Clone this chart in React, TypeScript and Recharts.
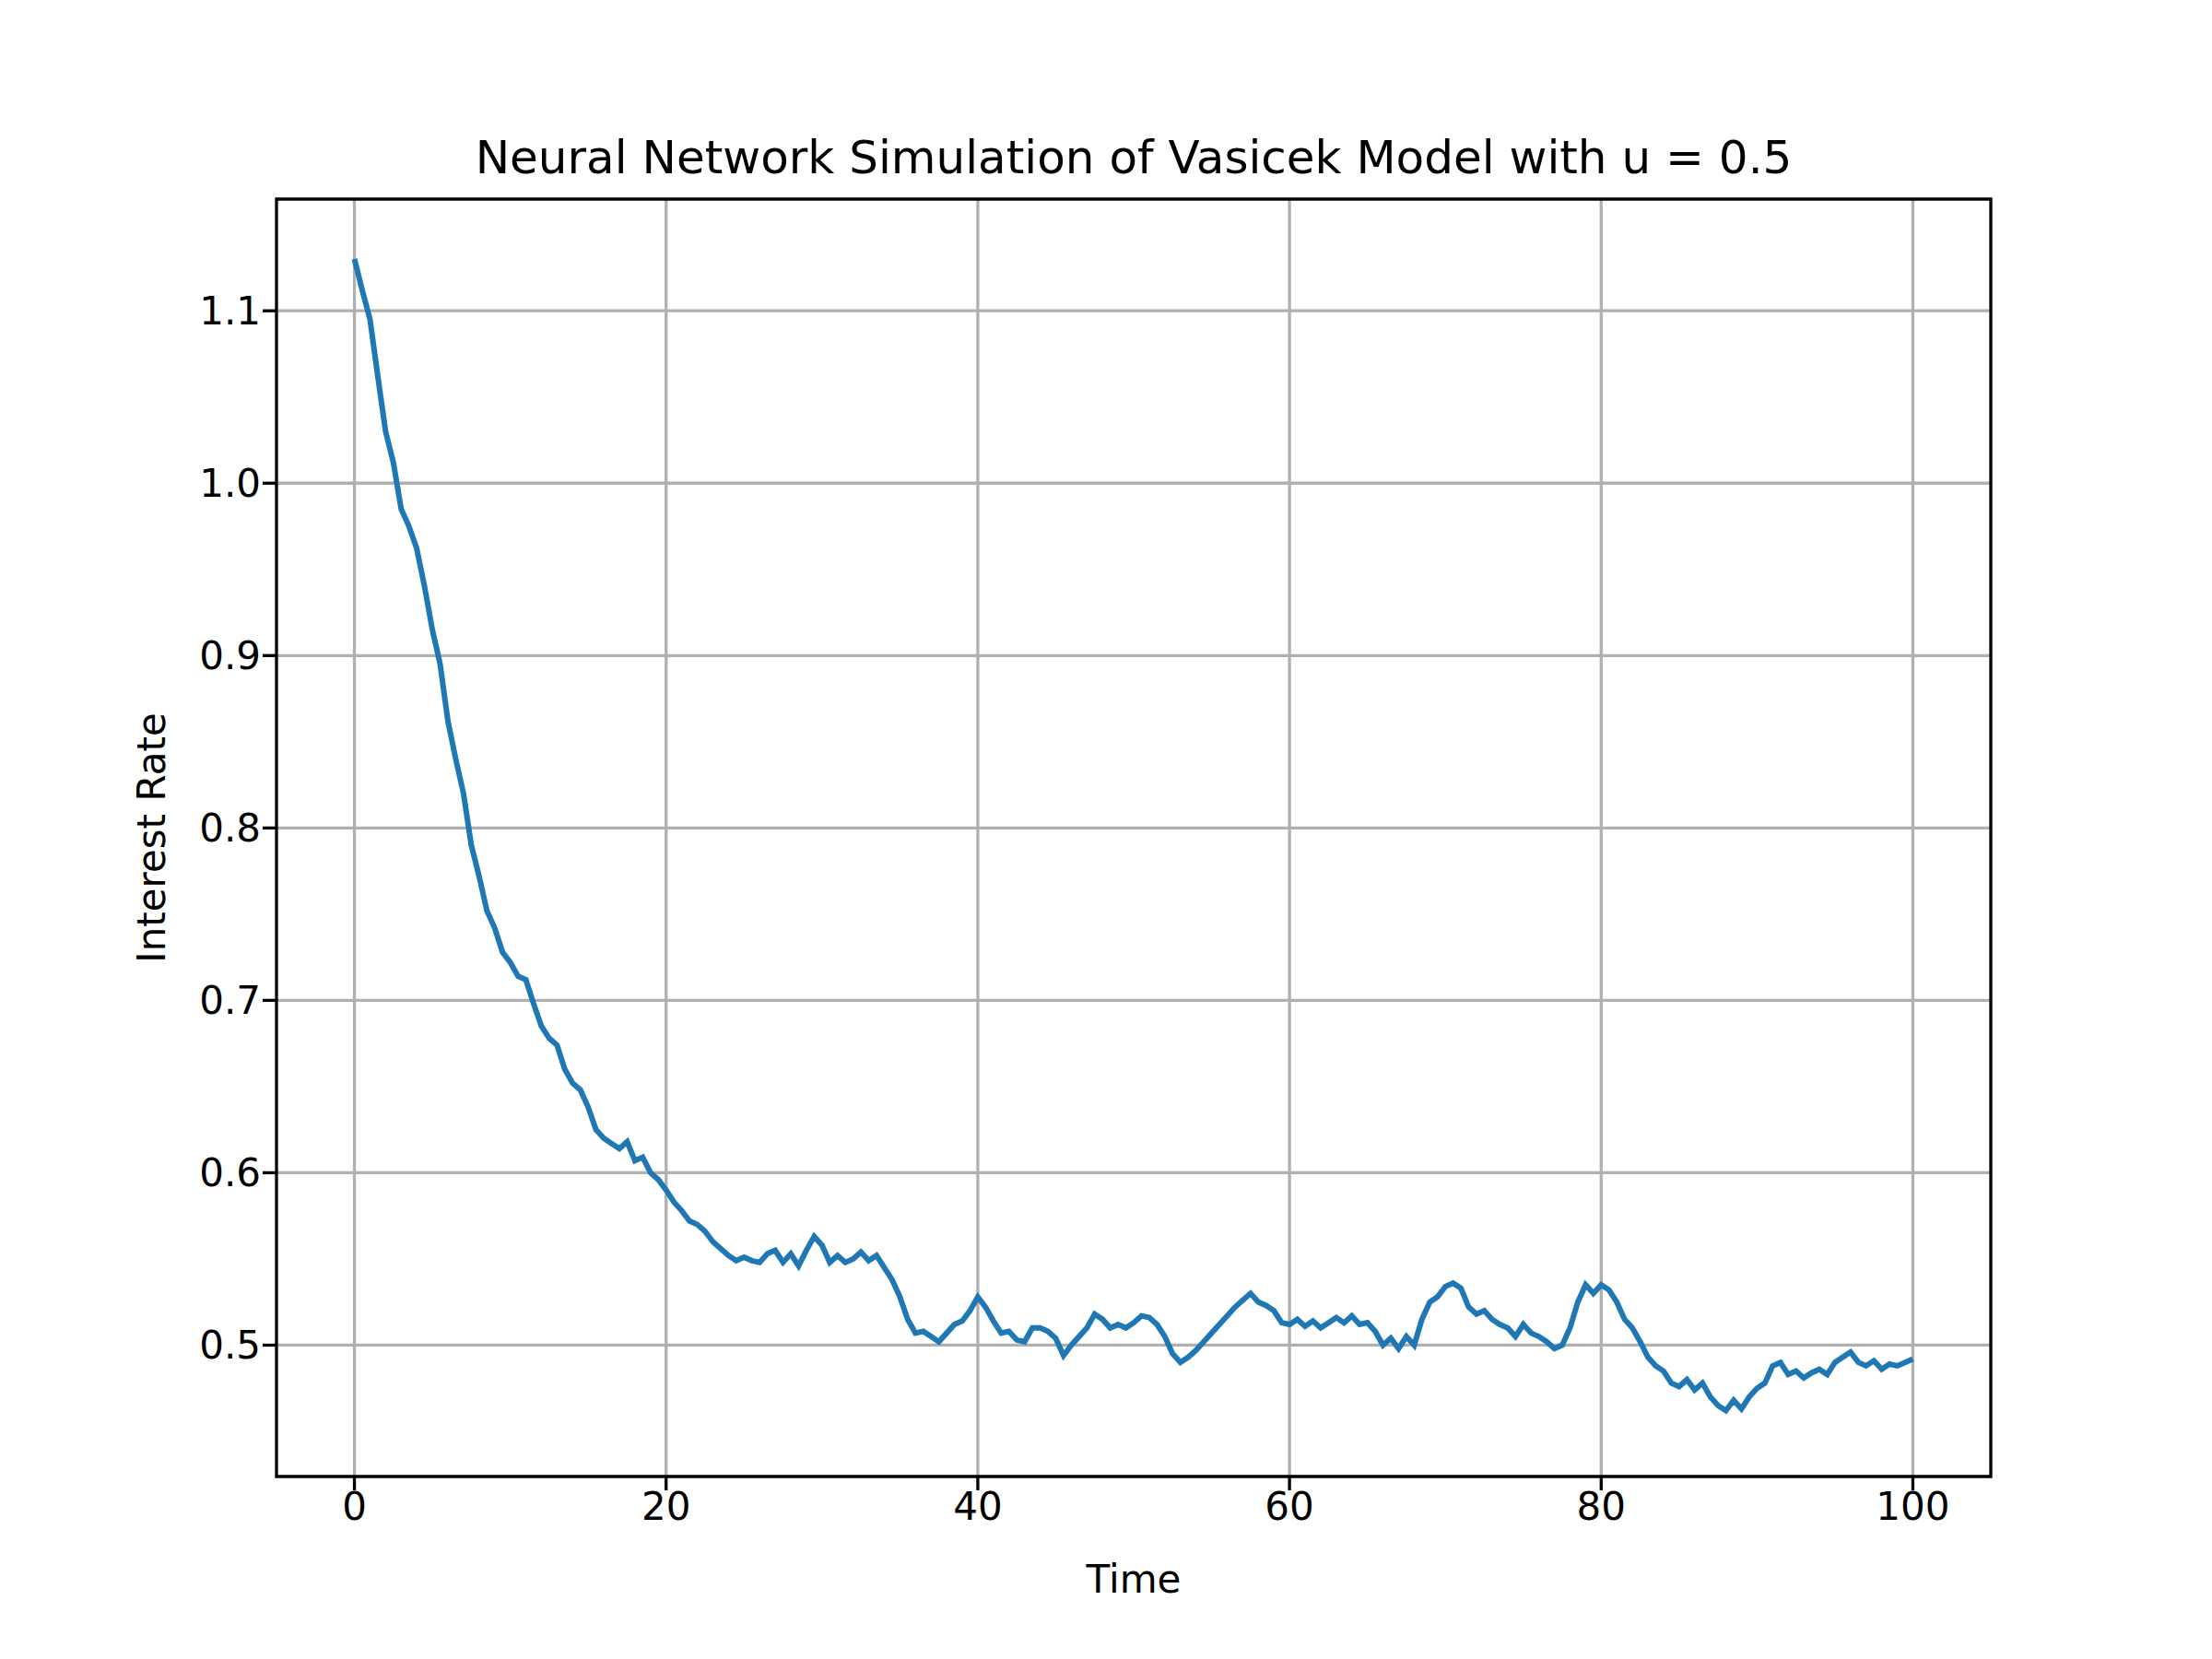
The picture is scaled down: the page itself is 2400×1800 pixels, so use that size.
import React from 'react';
import {
  LineChart,
  Line,
  XAxis,
  YAxis,
  CartesianGrid,
  ReferenceArea
} from 'recharts';

const rates: number[] = [
  1.130, 1.112, 1.095, 1.062, 1.030, 1.012, 0.985, 0.975, 0.962, 0.940,
  0.915, 0.895, 0.862, 0.840, 0.820, 0.790, 0.772, 0.752, 0.742, 0.728,
  0.722, 0.714, 0.712, 0.698, 0.685, 0.678, 0.674, 0.660, 0.652, 0.648,
  0.638, 0.625, 0.620, 0.617, 0.614, 0.618, 0.607, 0.609, 0.600, 0.596,
  0.590, 0.583, 0.578, 0.572, 0.570, 0.566, 0.560, 0.556, 0.552, 0.549,
  0.551, 0.549, 0.548, 0.553, 0.555, 0.548, 0.553, 0.546, 0.555, 0.563,
  0.558, 0.548, 0.552, 0.548, 0.550, 0.554, 0.549, 0.552, 0.545, 0.538,
  0.528, 0.515, 0.507, 0.508, 0.505, 0.502, 0.507, 0.512, 0.514, 0.520,
  0.528, 0.522, 0.514, 0.507, 0.508, 0.503, 0.502, 0.510, 0.510, 0.508,
  0.504, 0.494, 0.500, 0.505, 0.510, 0.518, 0.515, 0.510, 0.512, 0.510,
  0.513, 0.517, 0.516, 0.512, 0.505, 0.495, 0.490, 0.493, 0.497, 0.502,
  0.507, 0.512, 0.517, 0.522, 0.526, 0.530, 0.525, 0.523, 0.520, 0.513,
  0.512, 0.515, 0.511, 0.514, 0.510, 0.513, 0.516, 0.513, 0.517, 0.512,
  0.513, 0.508, 0.500, 0.504, 0.498, 0.505, 0.500, 0.515, 0.525, 0.528,
  0.534, 0.536, 0.533, 0.522, 0.518, 0.520, 0.515, 0.512, 0.510, 0.505,
  0.512, 0.507, 0.505, 0.502, 0.498, 0.500, 0.510, 0.525, 0.535, 0.530,
  0.535, 0.532, 0.525, 0.515, 0.510, 0.502, 0.493, 0.488, 0.485, 0.478,
  0.476, 0.480, 0.474, 0.478, 0.470, 0.465, 0.462, 0.468, 0.463, 0.470,
  0.475, 0.478, 0.488, 0.490, 0.483, 0.485, 0.481, 0.484, 0.486, 0.483,
  0.490, 0.493, 0.496, 0.490, 0.488, 0.491, 0.486, 0.489, 0.488, 0.490,
  0.492
];
const timeStep = 0.5;
const xTicks = [0, 20, 40, 60, 80, 100];
const yTicks = [0.5, 0.6, 0.7, 0.8, 0.9, 1.0, 1.1];

const data = rates.map((r, i) => ({ t: i * timeStep, r }));

const X_DOMAIN: [number, number] = [-5, 105];
const Y_DOMAIN: [number, number] = [0.4238, 1.1648];

const font = 'DejaVu Sans, sans-serif';
const tickStyle = { fontSize: 42, fill: '#000', fontFamily: font };

export default function App() {
  return (
    <div style={{ position: 'absolute', left: 0, top: 0, width: 2400, height: 1800, background: '#fff' }}>
      <div style={{ position: 'absolute', left: 300, width: 1860, top: 142, textAlign: 'center', fontFamily: font, fontSize: 50, lineHeight: '58px', whiteSpace: 'nowrap' }}>
        Neural Network Simulation of Vasicek Model with u = 0.5
      </div>
      <div style={{ position: 'absolute', left: 300, width: 1860, top: 1689, textAlign: 'center', fontFamily: font, fontSize: 42, lineHeight: '49px' }}>
        Time
      </div>
      <div style={{ position: 'absolute', left: 164, top: 909, transform: 'translate(-50%, -50%) rotate(-90deg)', whiteSpace: 'nowrap', fontFamily: font, fontSize: 42, lineHeight: '49px' }}>
        Interest Rate
      </div>
      <LineChart width={2400} height={1800} data={data} margin={{ top: 216, right: 240, left: 200, bottom: 98 }}>
        <CartesianGrid stroke="#b0b0b0" strokeWidth={3.3} verticalValues={xTicks} horizontalValues={yTicks} />
        <XAxis
          dataKey="t"
          type="number"
          domain={X_DOMAIN}
          ticks={xTicks}
          allowDataOverflow
          height={100}
          tickSize={15}
          tick={tickStyle}
          axisLine={false}
          tickLine={{ stroke: '#000', strokeWidth: 3.3 }}
        />
        <YAxis
          type="number"
          domain={Y_DOMAIN}
          ticks={yTicks}
          allowDataOverflow
          width={100}
          tickSize={15}
          tick={tickStyle}
          tickFormatter={(v: number) => v.toFixed(1)}
          axisLine={false}
          tickLine={{ stroke: '#000', strokeWidth: 3.3 }}
        />
        <ReferenceArea x1={X_DOMAIN[0]} x2={X_DOMAIN[1]} y1={Y_DOMAIN[0]} y2={Y_DOMAIN[1]} fill="none" stroke="#000" strokeWidth={3.3} fillOpacity={0} strokeOpacity={1} />
        <Line dataKey="r" stroke="#1f77b4" strokeWidth={6} dot={false} isAnimationActive={false} />
      </LineChart>
    </div>
  );
}
